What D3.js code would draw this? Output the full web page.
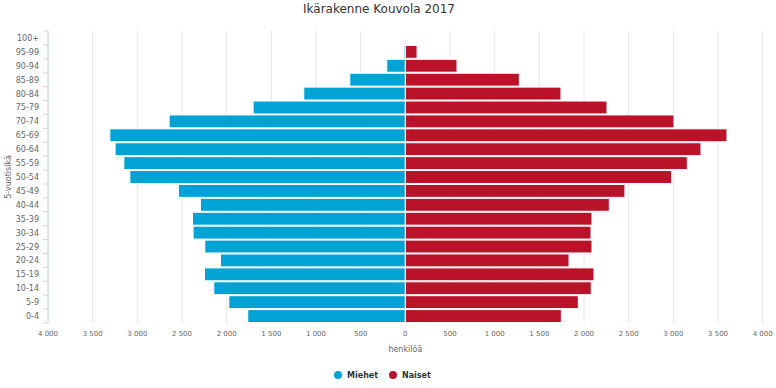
<!DOCTYPE html>
<html><head><meta charset="utf-8">
<script src="https://cdn.jsdelivr.net/npm/d3@7"></script>
<style>body{margin:0;background:#fff;}svg{display:block;font-family:"DejaVu Sans",sans-serif;}</style>
</head><body>
<svg id="c" width="776" height="388"></svg>
<script>
const categories = ["100+","95-99","90-94","85-89","80-84","75-79","70-74","65-69","60-64","55-59","50-54","45-49","40-44","35-39","30-34","25-29","20-24","15-19","10-14","5-9","0-4"];
const miehet = [1,15,208,622,1137,1704,2644,3308,3249,3151,3084,2540,2294,2383,2376,2245,2070,2249,2144,1976,1764];
const naiset = [5,131,578,1276,1742,2257,3007,3600,3309,3156,2981,2458,2283,2089,2078,2089,1832,2112,2081,1936,1746];
const xTicks = [-4000,-3500,-3000,-2500,-2000,-1500,-1000,-500,0,500,1000,1500,2000,2500,3000,3500,4000];
const seriesNames = ["Miehet","Naiset"];
const colors = ["#00a3d4","#ba1229"];

const svg = d3.select("#c");
const L = 48, R = 762.7, T = 31, B = 323;
const x = d3.scale ? null : null;
const xs = d3.scaleLinear().domain([-4000,4000]).range([L,R]);
const ys = d3.scaleBand().domain(categories).range([T,B]).padding(0);

// gridlines
svg.append("g").selectAll("line").data(xTicks).join("line")
  .attr("x1",d=>xs(d)).attr("x2",d=>xs(d)).attr("y1",T).attr("y2",B)
  .attr("stroke","#e6e6e6").attr("stroke-width",1);

// left axis line and ticks
svg.append("line").attr("x1",L).attr("x2",L).attr("y1",T).attr("y2",B).attr("stroke","#ccd6eb");
const bounds = categories.map(c=>ys(c)).concat([B]);
svg.append("g").selectAll("line").data(bounds).join("line")
  .attr("x1",L-5).attr("x2",L).attr("y1",d=>d).attr("y2",d=>d).attr("stroke","#ccd6eb");

// bars
svg.append("g").selectAll("rect").data(categories).join("rect")
  .attr("x",(d,i)=>xs(-miehet[i])).attr("width",(d,i)=>xs(0)-xs(-miehet[i]))
  .attr("y",d=>ys(d)+0.5).attr("height",ys.bandwidth()-1)
  .attr("fill",colors[0]).attr("stroke","#fff").attr("stroke-width",1);
svg.append("g").selectAll("rect").data(categories).join("rect")
  .attr("x",xs(0)).attr("width",(d,i)=>xs(naiset[i])-xs(0))
  .attr("y",d=>ys(d)+0.5).attr("height",ys.bandwidth()-1)
  .attr("fill",colors[1]).attr("stroke","#fff").attr("stroke-width",1);

// category labels
svg.append("g").selectAll("text").data(categories).join("text")
  .attr("x",39).attr("y",d=>ys(d)+ys.bandwidth()/2+3)
  .attr("text-anchor","end").attr("font-size",8).attr("fill","#666").text(d=>d);

// x tick labels
const fmt = v => { const a=Math.abs(v); return a>=1000 ? Math.floor(a/1000)+" "+String(a%1000).padStart(3,"0") : String(a); };
svg.append("g").selectAll("text").data(xTicks).join("text")
  .attr("x",d=>xs(d)).attr("y",336).attr("text-anchor","middle")
  .attr("font-size",7).attr("fill","#666").text(fmt);

// axis titles
svg.append("text").attr("x",xs(0)).attr("y",352).attr("text-anchor","middle")
  .attr("font-size",8).attr("fill","#666").text("henkilöä");
svg.append("text").attr("transform","translate(11,"+((T+B)/2)+") rotate(-90)")
  .attr("text-anchor","middle").attr("font-size",8).attr("fill","#666").text("5-vuotisikä");

// title
svg.append("text").attr("x",379).attr("y",13).attr("text-anchor","middle")
  .attr("font-size",12).attr("fill","#333").text("Ikärakenne Kouvola 2017");

// legend
const lg = svg.append("g");
const lx = [338,393];
seriesNames.forEach((n,i)=>{
  lg.append("circle").attr("cx",lx[i]).attr("cy",375).attr("r",4).attr("fill",colors[i]);
  lg.append("text").attr("x",lx[i]+9).attr("y",378).attr("font-size",8).attr("font-weight","bold").attr("fill","#333").text(n);
});
</script>
</body></html>
